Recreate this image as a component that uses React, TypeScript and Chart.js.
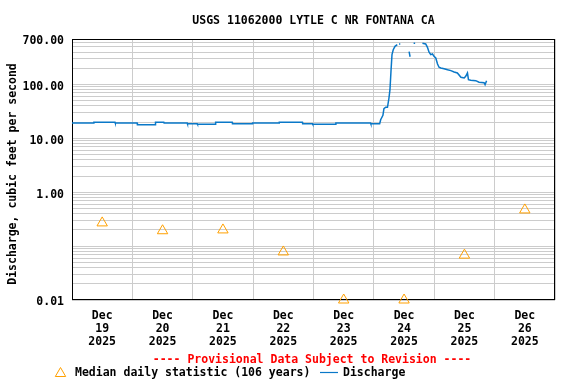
import React, { useEffect, useRef } from 'react';
import { Chart, registerables } from 'chart.js';

Chart.register(...registerables);

const TITLE = 'USGS 11062000 LYTLE C NR FONTANA CA';
const PROVISIONAL = '---- Provisional Data Subject to Revision ----';
const Y_TITLE = 'Discharge, cubic feet per second';
const MEDIAN_LABEL = 'Median daily statistic (106 years)';
const FLOW_LABEL = 'Discharge';

const MONTH = 'Dec';
const YEAR = '2025';
const DAY_LABELS = ['19', '20', '21', '22', '23', '24', '25', '26'];

// hours since Dec 19 00:00
const MEDIAN_HOURS = [12, 36, 60, 84, 108, 132, 156, 180];
const MEDIAN_VALUES = [0.27, 0.193, 0.2, 0.078, 0.01, 0.01, 0.068, 0.47];

const FLOW_HOURS = [
  0, 8.6, 8.7, 17.1, 17.2, 25.9, 26.0, 33.1, 33.2, 36.5, 36.6, 45.8, 45.9, 49.8,
  49.9, 57.0, 57.1, 63.7, 63.8, 71.7, 71.8, 82.3, 82.4, 91.6, 91.7, 95.6, 95.7,
  104.8, 104.9, 118.7, 118.8, 122.3, 122.7, 123.6, 124.0, 124.7, 125.4, 126.0,
  126.4, 126.8, 127.2, 127.7, 128.4, 129.3, 129.6, 130.0, 130.5, 131.0, 134.0,
  134.4, 135.0, 135.8, 136.4, 137.0, 139.3, 140.6, 141.3, 141.9, 142.6, 143.3,
  143.9, 144.6, 145.3, 145.9, 146.6, 147.9, 149.3, 150.6, 151.9, 153.2, 154.6,
  155.9, 156.5, 157.2, 157.6, 158.5, 160.5, 161.8, 163.8, 164.2, 164.8,
];
const FLOW_VALUES = [
  19.3, 19.3, 19.9, 19.9, 19.3, 19.3, 18.0, 18.0, 19.9, 19.9, 19.3, 19.3, 18.7, 18.7,
  18.3, 18.3, 19.9, 19.9, 18.7, 18.7, 19.3, 19.3, 19.9, 19.9, 18.7, 18.7, 18.3,
  18.3, 19.3, 19.3, 18.7, 18.7, 22.2, 26.8, 35.6, 37.8, 37.8, 56.2,
  80.2, 176, 358, 443, 512, 549, null, 565, 565, null, 407,
  328, null, 582, 582, null, 582, 565, 491, 401, 358, 369,
  334, 311, 240, 209, 203, 197, 188, 181, 171, 164, 136,
  132, 142, 164, 123, 120, 118, 110, 108, 99.3, 118,
];

const Y_TICKS = [
  0.01, 0.02, 0.03, 0.04, 0.05, 0.06, 0.07, 0.08, 0.09,
  0.1, 0.2, 0.3, 0.4, 0.5, 0.6, 0.7, 0.8, 0.9,
  1, 2, 3, 4, 5, 6, 7, 8, 9,
  10, 20, 30, 40, 50, 60, 70, 80, 90,
  100, 200, 300, 400, 500, 600, 700,
];
const Y_LABELED = [0.01, 1, 10, 100, 700];

const X_TICK_HOURS = [0, 12, 24, 36, 48, 60, 72, 84, 96, 108, 120, 132, 144, 156, 168, 180, 192];

const FONT_FAMILY = '"DejaVu Sans Mono", "Liberation Mono", monospace';
const FLOW_COLOR = '#0a78c8';
const MEDIAN_COLOR = '#ffa000';
const GRID_COLOR = '#cccccc';

const decorPlugin = {
  id: 'decor',
  beforeDatasetsDraw(chart: any) {
    const { ctx, chartArea: a } = chart;
    ctx.save();
    ctx.strokeStyle = '#000';
    ctx.lineWidth = 1;
    ctx.strokeRect(a.left + 0.5, a.top + 0.5, a.right - a.left - 1, a.bottom - a.top - 1);
    ctx.restore();
  },
  afterDraw(chart: any) {
    const { ctx, chartArea: a } = chart;
    const cx = (a.left + a.right) / 2;
    ctx.save();
    ctx.font = `bold 11.5px ${FONT_FAMILY}`;
    ctx.fillStyle = '#000';
    ctx.textBaseline = 'middle';
    ctx.textAlign = 'center';
    ctx.fillText(TITLE, cx, 21);

    ctx.fillStyle = '#ff0000';
    ctx.fillText(PROVISIONAL, 312, 360);

    // y title
    ctx.save();
    ctx.translate(13, 174);
    ctx.rotate(-Math.PI / 2);
    ctx.fillStyle = '#000';
    ctx.fillText(Y_TITLE, 0, 0);
    ctx.restore();

    // legend
    const ly = 373.5;
    const ds = chart.data.datasets;
    ctx.textAlign = 'left';
    ctx.fillStyle = '#000';
    ctx.strokeStyle = ds[0].borderColor;
    ctx.lineWidth = 1;
    const tx = 60.5, r = 6, tyc = 372;
    ctx.beginPath();
    ctx.moveTo(tx, tyc - r + 1.5);
    ctx.lineTo(tx + r * 0.866, tyc + r * 0.5 + 1.5);
    ctx.lineTo(tx - r * 0.866, tyc + r * 0.5 + 1.5);
    ctx.closePath();
    ctx.stroke();
    ctx.fillText(ds[0].label, 75, ly);
    ctx.strokeStyle = ds[1].borderColor;
    ctx.lineWidth = 1.2;
    ctx.beginPath();
    ctx.moveTo(320, 372.5);
    ctx.lineTo(338, 372.5);
    ctx.stroke();
    ctx.fillText(ds[1].label, 343, ly);
    ctx.restore();
  },
};

export default function App() {
  const canvasRef = useRef<HTMLCanvasElement | null>(null);

  useEffect(() => {
    document.body.style.margin = '0';
    const canvas = canvasRef.current;
    if (!canvas) return;

    const medianData = MEDIAN_HOURS.map((h, i) => ({ x: h, y: MEDIAN_VALUES[i] }));
    const flowData = FLOW_HOURS.map((h, i) => ({ x: h, y: FLOW_VALUES[i] }));

    const chart = new Chart(canvas, {
      type: 'line',
      data: {
        datasets: [
          {
            label: MEDIAN_LABEL,
            data: medianData as any,
            showLine: false,
            pointStyle: 'triangle',
            pointRadius: 6,
            pointHoverRadius: 6,
            pointBorderWidth: 1,
            borderColor: MEDIAN_COLOR,
            pointBorderColor: MEDIAN_COLOR,
            pointBackgroundColor: 'rgba(0,0,0,0)',
            backgroundColor: 'rgba(0,0,0,0)',
            clip: false as any,
          },
          {
            label: FLOW_LABEL,
            data: flowData as any,
            borderColor: FLOW_COLOR,
            borderWidth: 1.5,
            pointRadius: 0,
            pointHoverRadius: 0,
            spanGaps: false,
            tension: 0,
            fill: false,
          },
        ],
      },
      options: {
        animation: false,
        responsive: false,
        devicePixelRatio: 1,
        events: [],
        layout: { padding: { top: 39, right: 21, left: 0, bottom: 0 } },
        plugins: {
          legend: { display: false },
          title: { display: false },
          tooltip: { enabled: false },
        },
        scales: {
          x: {
            type: 'linear',
            min: 0,
            max: 192,
            border: { display: false },
            grid: {
              drawTicks: false,
              lineWidth: 1,
              color: (ctx: any) =>
                ctx.tick && ctx.tick.value % 24 === 0 ? GRID_COLOR : 'rgba(0,0,0,0)',
            },
            afterBuildTicks: (scale: any) => {
              scale.ticks = X_TICK_HOURS.map((v) => ({ value: v }));
            },
            afterFit: (scale: any) => {
              scale.height = 84;
            },
            ticks: {
              autoSkip: false,
              maxRotation: 0,
              minRotation: 0,
              padding: 9,
              color: '#000',
              font: { family: FONT_FAMILY, size: 11.5, weight: 'bold', lineHeight: 13.2 / 11.5 },
              callback: (value: any) => {
                const v = Number(value);
                if (v % 24 !== 12) return '';
                const idx = Math.floor(v / 24);
                return [MONTH, DAY_LABELS[idx], YEAR];
              },
            },
          },
          y: {
            type: 'logarithmic',
            min: 0.01,
            max: 700,
            border: { display: false },
            grid: { drawTicks: false, color: GRID_COLOR, lineWidth: 1 },
            afterBuildTicks: (scale: any) => {
              scale.ticks = Y_TICKS.map((v) => ({ value: v }));
            },
            afterFit: (scale: any) => {
              scale.width = 72;
            },
            ticks: {
              autoSkip: false,
              padding: 8,
              labelOffset: 2.5,
              color: '#000',
              font: { family: FONT_FAMILY, size: 11.5, weight: 'bold' },
              callback: (value: any) => {
                const v = Number(value);
                const hit = Y_LABELED.find((l) => Math.abs(l - v) / l < 1e-6);
                return hit !== undefined ? hit.toFixed(2) : '';
              },
            },
          },
        },
      },
      plugins: [decorPlugin],
    });

    return () => chart.destroy();
  }, []);

  return (
    <div style={{ width: 576, height: 384 }}>
      <canvas ref={canvasRef} width={576} height={384} style={{ display: 'block' }} />
    </div>
  );
}
